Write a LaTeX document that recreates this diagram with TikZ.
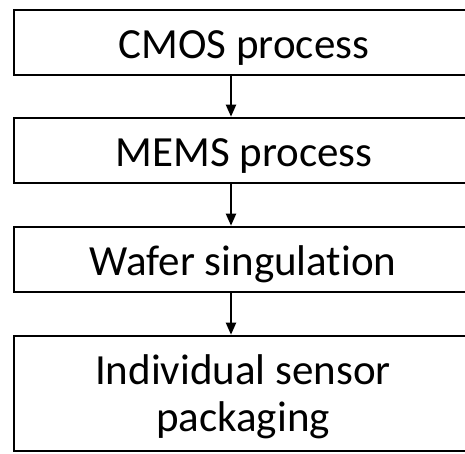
\documentclass[tikz,border=0pt]{standalone}
\usepackage{fontspec}
\setmainfont{Carlito}[Ligatures=NoCommon]
\usetikzlibrary{arrows.meta}
\begin{document}
\begin{tikzpicture}[x=1pt,y=-1pt,
  stepbox/.style={draw=black, line width=2.6pt, minimum width=458pt, inner sep=0pt},
  steptext/.style={font=\fontsize{43}{47}\selectfont, anchor=base, inner sep=0pt},
  flow/.style={line width=2pt, -{Triangle[length=12pt,width=10pt]}}]
\useasboundingbox (0,0) rectangle (465,453);
\clip (0,0) rectangle (465,453);
% process steps (boxes run past the right edge)
\node[stepbox, minimum height=65pt]  (cmos)  at (243,42.5)  {};
\node[stepbox, minimum height=65pt]  (mems)  at (243,150.5) {};
\node[stepbox, minimum height=65pt]  (wafer) at (243,259.5) {};
\node[stepbox, minimum height=115pt] (pack)  at (243,393.5) {};
% step captions (kern keeps "t" and "i" as separate glyphs)
\node[steptext] (tcmos)  at (244,58)  {CMOS process};
\node[steptext] (tmems)  at (244,166) {MEMS process};
\node[steptext] (twafer) at (243,275) {Wafer singulat\kern0pt ion};
\node[steptext] (tpack1) at (243,384) {Individual sensor};
\node[steptext] (tpack2) at (243,431) {packaging};
% flow arrows
\draw[flow] ([xshift=-12pt]cmos.south)  -- ([xshift=-12pt]mems.north);
\draw[flow] ([xshift=-12pt]mems.south)  -- ([xshift=-12pt]wafer.north);
\draw[flow] ([xshift=-12pt]wafer.south) -- ([xshift=-12pt]pack.north);
\end{tikzpicture}
\end{document}
